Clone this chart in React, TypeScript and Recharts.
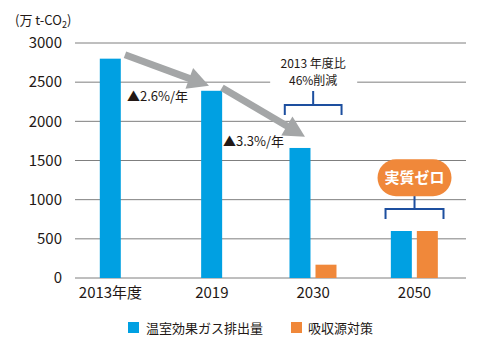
import React from 'react';
import {
  BarChart, Bar, XAxis, YAxis, CartesianGrid, Legend, ReferenceLine, ReferenceDot,
} from 'recharts';

const categories = ['2013年度', '2019', '2030', '2050'];
const ghgValues = [2800, 2390, 1660, 600];
const sinkValues: (number | null)[] = [null, null, 170, 600];
const yTicks = [0, 500, 1000, 1500, 2000, 2500, 3000];

const data = categories.map((name, i) => ({
  idx: i,
  name,
  ghg: ghgValues[i],
  sink: sinkValues[i],
}));

const BLUE = '#00a0e2';
const ORANGE = '#f0883a';
const NAVY = '#1d4f9f';
const GRAY = '#a4a6a7';
const INK = '#231815';
const FONT = '"Noto Sans CJK JP", "Noto Sans", sans-serif';
const BAR_SIZE = 21;
const BAR_GAP = 5;

// single bars (no sink value) sit in the middle of their category
const GhgBar = (props: any) => {
  const { x, y, width, height, payload } = props;
  const shift = payload && payload.sink == null ? (width + BAR_GAP) / 2 : 0;
  return <rect x={x + shift} y={y} width={width} height={height} fill={BLUE} />;
};

const Arrow = (props: any) => {
  const { x1, y1, x2, y2 } = props;
  const dx = x2 - x1;
  const dy = y2 - y1;
  const len = Math.hypot(dx, dy) || 1;
  const ux = dx / len;
  const uy = dy / len;
  const hl = 21;
  const hw = 11;
  const bx = x2 - ux * hl;
  const by = y2 - uy * hl;
  return (
    <g>
      <line x1={x1} y1={y1} x2={bx + ux * 2} y2={by + uy * 2} stroke={GRAY} strokeWidth={7} />
      <polygon
        points={`${x2},${y2} ${bx - uy * hw},${by + ux * hw} ${bx + uy * hw},${by - ux * hw}`}
        fill={GRAY}
      />
    </g>
  );
};

const Bracket = (props: any) => {
  const { x1, y1, x2 } = props;
  const mid = (x1 + x2) / 2;
  return (
    <path
      d={`M${x1},${y1 + 10} V${y1} H${x2} V${y1 + 10} M${mid},${y1} V${y1 - 14}`}
      stroke={NAVY}
      strokeWidth={2}
      fill="none"
    />
  );
};

const RateLabel = (text: string) => (props: any) => (
  <text x={props.cx} y={props.cy} dy="0.35em" fontSize={13} fill={INK} fontFamily={FONT}>
    {text}
  </text>
);

const ReductionNote = (props: any) => {
  const { cx, cy } = props;
  return (
    <g>
      <rect x={cx - 43} y={cy - 18} width={87} height={36} fill="#fff" />
      <text x={cx} y={cy - 8.5} dy="0.35em" textAnchor="middle" fontSize={12} fill={INK} fontFamily={FONT}>
        2013 年度比
      </text>
      <text x={cx} y={cy + 8.5} dy="0.35em" textAnchor="middle" fontSize={12} fill={INK} fontFamily={FONT}>
        46%削減
      </text>
    </g>
  );
};

const ZeroPill = (props: any) => {
  const { cx, cy } = props;
  return (
    <g>
      <rect x={cx - 37} y={cy - 18.5} width={74} height={37} rx={18.5} fill={ORANGE} />
      <text x={cx} y={cy} dy="0.36em" textAnchor="middle" fontSize={15} fontWeight="bold" fill="#fff" fontFamily={FONT}>
        実質ゼロ
      </text>
    </g>
  );
};

const UnitLabel = (props: any) => {
  const { viewBox } = props;
  return (
    <text x={viewBox.x + 15} y={viewBox.y - 23} dy="0.35em" fontSize={13} fill={INK} fontFamily={FONT}>
      (万 t-CO<tspan fontSize={9} dy={3}>2</tspan><tspan dy={-3}>)</tspan>
    </text>
  );
};

const LegendContent = () => (
  <div style={{ height: 20, display: 'flex', justifyContent: 'flex-start', alignItems: 'center', fontFamily: FONT, fontSize: 13, color: INK }}>
    <span style={{ display: 'inline-block', width: 11, height: 11, background: BLUE, marginLeft: 128, marginRight: 7 }} />
    <span>温室効果ガス排出量</span>
    <span style={{ display: 'inline-block', width: 11, height: 11, background: ORANGE, marginLeft: 28, marginRight: 6 }} />
    <span>吸収源対策</span>
  </div>
);

export default function App() {
  return (
    <div style={{ position: 'absolute', left: 0, top: 0, width: 500, height: 343, background: '#fff', fontFamily: FONT }}>
      <BarChart
        width={500}
        height={343}
        data={data}
        margin={{ top: 43, right: 34, bottom: 6, left: 0 }}
        barSize={BAR_SIZE}
        barGap={BAR_GAP}
      >
        <CartesianGrid vertical={false} stroke="#7f7f7f" strokeWidth={1} />
        <XAxis
          dataKey="idx"
          type="number"
          domain={[-0.35, 3.508]}
          ticks={[0, 1, 2, 3]}
          allowDataOverflow
          tickFormatter={(v: number) => categories[v] ?? ''}
          tickLine={false}
          axisLine={false}
          height={39}
          tickMargin={3}
          tick={{ fontSize: 15, fill: INK }}
        />
        <YAxis
          domain={[0, 3000]}
          ticks={yTicks}
          width={75}
          tickLine={false}
          axisLine={false}
          tickMargin={7}
          tick={{ fontSize: 15, fill: INK }}
          label={{ content: UnitLabel }}
        />
        <Legend verticalAlign="bottom" content={LegendContent} />
        <Bar dataKey="ghg" name="温室効果ガス排出量" fill={BLUE} shape={GhgBar} isAnimationActive={false} />
        <Bar dataKey="sink" name="吸収源対策" fill={ORANGE} isAnimationActive={false} />
        <ReferenceLine segment={[{ x: 0.143, y: 2851 }, { x: 0.972, y: 2455 }]} shape={Arrow} />
        <ReferenceLine segment={[{ x: 1.1, y: 2429 }, { x: 1.919, y: 1804 }]} shape={Arrow} />
        <ReferenceLine segment={[{ x: 1.72, y: 2210 }, { x: 2.28, y: 2210 }]} shape={Bracket} />
        <ReferenceLine segment={[{ x: 2.714, y: 881 }, { x: 3.286, y: 881 }]} shape={Bracket} />
        <ReferenceDot x={0.163} y={2315} shape={RateLabel('▲2.6%/年')} />
        <ReferenceDot x={1.11} y={1740} shape={RateLabel('▲3.3%/年')} />
        <ReferenceDot x={2} y={2630} shape={ReductionNote} />
        <ReferenceDot x={3} y={1280} shape={ZeroPill} />
      </BarChart>
    </div>
  );
}
